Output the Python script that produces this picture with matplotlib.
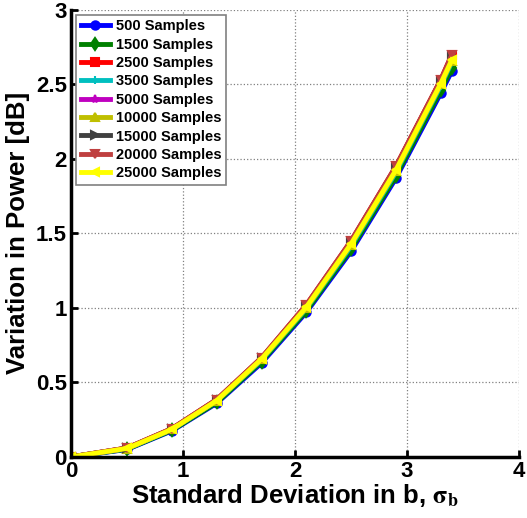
import numpy as np
from matplotlib import pyplot as plt

plt.rcParams['font.family'] = ['Liberation Sans', 'DejaVu Sans']
plt.rcParams['font.weight'] = 'bold'
plt.rcParams['mathtext.fontset'] = 'stix'

# standard deviation in b
x = [0, 0.5, 0.9, 1.3, 1.7, 2.1, 2.5, 2.9, 3.3, 3.4]

# variation in power [dB] per sample count
y500 = [0, 0.050, 0.175, 0.360, 0.630, 0.970, 1.380, 1.870, 2.440, 2.590]
y1500 = [0, 0.052, 0.178, 0.365, 0.640, 0.980, 1.395, 1.885, 2.460, 2.610]
y2500 = [0, 0.060, 0.190, 0.385, 0.665, 1.020, 1.450, 1.950, 2.530, 2.700]
y3500 = [0, 0.055, 0.183, 0.375, 0.650, 0.995, 1.415, 1.910, 2.490, 2.650]
y5000 = [0, 0.058, 0.187, 0.380, 0.660, 1.010, 1.440, 1.940, 2.520, 2.680]
y10000 = [0, 0.056, 0.185, 0.377, 0.655, 1.000, 1.425, 1.920, 2.500, 2.660]
y15000 = [0, 0.059, 0.188, 0.383, 0.662, 1.015, 1.445, 1.945, 2.525, 2.690]
y20000 = [0, 0.060, 0.190, 0.385, 0.665, 1.020, 1.450, 1.950, 2.530, 2.700]
y25000 = [0, 0.057, 0.185, 0.378, 0.657, 1.005, 1.430, 1.925, 2.505, 2.665]

labels = ['500 Samples', '1500 Samples', '2500 Samples', '3500 Samples',
          '5000 Samples', '10000 Samples', '15000 Samples', '20000 Samples',
          '25000 Samples']
series = [y500, y1500, y2500, y3500, y5000, y10000, y15000, y20000, y25000]
colors = [(0, 0, 1), (0, 0.5, 0), (1, 0, 0), (0, 0.75, 0.75), (0.75, 0, 0.75),
          (0.75, 0.75, 0), (0.25, 0.25, 0.25), (0.75, 0.25, 0.25), (1, 1, 0)]
markers = ['o', 'd', 's', '+', '*', '^', '>', 'v', '<']

fig = plt.figure(figsize=(5.27, 5.18), dpi=100)
ax = fig.add_axes([0.135, 0.118, 0.85, 0.863])

for ys, lab, c, mk in zip(series, labels, colors, markers):
    ax.plot(x, ys, '-', color=c, marker=mk, lw=3.5, ms=6, mew=1.5, label=lab)

ax.set_xlim(0, 4)
ax.set_ylim(0, 3)
ax.set_xticks([0, 1, 2, 3, 4])
ax.set_yticks(np.arange(0, 3.01, 0.5))
ax.set_yticklabels(['0', '0.5', '1', '1.5', '2', '2.5', '3'])
ax.grid(True, linestyle=':', color='gray', lw=0.9)
for s in ['top', 'right']:
    ax.spines[s].set_visible(False)
for s in ['left', 'bottom']:
    ax.spines[s].set_linewidth(2.5)
ax.tick_params(direction='in', length=5, width=2, labelsize=16, pad=3)
for t in ax.get_xticklabels() + ax.get_yticklabels():
    t.set_fontweight('bold')

ax.set_xlabel(r'Standard Deviation in b, $\mathrm{\sigma}_{\mathbf{b}}$',
              fontsize=18.5, fontweight='bold', labelpad=0)
ax.set_ylabel('Variation in Power [dB]', fontsize=18.5, fontweight='bold', labelpad=4)

leg = ax.legend(loc='upper left', fontsize=10.5, handlelength=2.0,
                borderaxespad=0.35, fancybox=False, framealpha=1,
                labelspacing=0.3, handletextpad=0.4, borderpad=0.3)
leg.get_frame().set_edgecolor('gray')
leg.get_frame().set_linewidth(1.2)
for t in leg.get_texts():
    t.set_fontweight('bold')

plt.savefig('out.png', dpi=100)
